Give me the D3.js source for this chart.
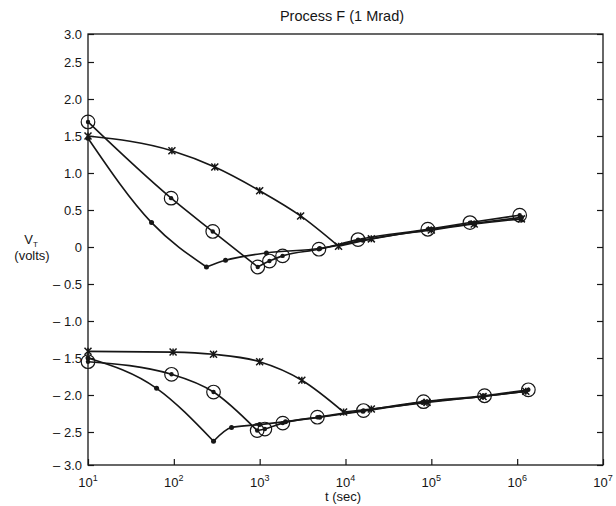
<!DOCTYPE html>
<html>
<head>
<meta charset="utf-8">
<script src="https://cdn.jsdelivr.net/npm/d3@7"></script>
<style>
    body { margin: 0; background: #fff; }
    svg { display: block; font-family: 'Liberation Sans', Arial, sans-serif; }
</style>
</head>
<body>
<svg id="chart-svg" width="616" height="506"></svg>
<script>
// Axis ticks
const xTicks = [1e1, 1e2, 1e3, 1e4, 1e5, 1e6, 1e7];
const yTicks = [-3, -2.5, -2, -1.5, -1, -0.5, 0, 0.5, 1, 1.5, 2, 2.5, 3];

// Upper set of curves (t in sec, V_T in volts). Knee = last point of the falling part.
const upStarT = [10, 95, 300, 1000, 3000, 8300, 20000, 100000, 316000, 1120000];
const upStarV = [1.50, 1.30, 1.08, 0.76, 0.42, 0.01, 0.11, 0.23, 0.31, 0.38];
const upStarKnee = 5;

const upRingT = [10, 93, 284, 950, 1300, 1850, 4900, 14000, 91000, 282000, 1070000];
const upRingV = [1.69, 0.66, 0.21, -0.27, -0.19, -0.12, -0.03, 0.10, 0.24, 0.33, 0.43];
const upRingKnee = 3;

const upDotT = [10, 55, 240, 400, 1200, 5000, 16000, 100000, 316000, 1120000];
const upDotV = [1.47, 0.33, -0.27, -0.18, -0.08, -0.02, 0.09, 0.24, 0.32, 0.40];
const upDotKnee = 2;

// Lower set of curves
const loStarT = [10, 98, 290, 1000, 3100, 9500, 20000, 89000, 400000, 1260000];
const loStarV = [-1.41, -1.42, -1.45, -1.55, -1.80, -2.23, -2.19, -2.10, -2.02, -1.95];
const loStarKnee = 5;

const loRingT = [10, 94, 290, 935, 1150, 1860, 4700, 16200, 81000, 417000, 1350000];
const loRingV = [-1.55, -1.72, -1.96, -2.48, -2.46, -2.38, -2.30, -2.21, -2.09, -2.01, -1.93];
const loRingKnee = 3;

const loDotT = [10, 63, 290, 470, 1000, 2000, 5000, 16000, 79000, 400000, 1260000];
const loDotV = [-1.50, -1.91, -2.64, -2.44, -2.40, -2.36, -2.30, -2.22, -2.10, -2.02, -1.95];
const loDotKnee = 2;

const series = [
    {t: upStarT, v: upStarV, knee: upStarKnee, mark: 'star'},
    {t: upRingT, v: upRingV, knee: upRingKnee, mark: 'ring'},
    {t: upDotT, v: upDotV, knee: upDotKnee, mark: 'dot'},
    {t: loStarT, v: loStarV, knee: loStarKnee, mark: 'star'},
    {t: loRingT, v: loRingV, knee: loRingKnee, mark: 'ring'},
    {t: loDotT, v: loDotV, knee: loDotKnee, mark: 'dot'}
];

const ink = '#161616';
const svg = d3.select('#chart-svg');

// Scales. The original plot squeezes the outermost half-volt steps a little,
// so the voltage scale is piecewise linear to follow the printed ticks.
let xScale = d3.scaleLog()
    .domain([10, 1e7])
    .range([88, 603]);

let yScale = d3.scaleLinear()
    .domain([-3, -2.5, 2.5, 3])
    .range([465, 432, 62, 34]);

let plotLeft = xScale.range()[0], plotRight = xScale.range()[1];
let plotTop = yScale(3), plotBottom = yScale(-3);

// Title
svg.append('text')
    .attr('x', 342)
    .attr('y', 21)
    .attr('text-anchor', 'middle')
    .attr('font-size', '14.5px')
    .attr('fill', ink)
    .text('Process F (1 Mrad)');

// Frame
svg.append('rect')
    .attr('x', plotLeft)
    .attr('y', plotTop)
    .attr('width', plotRight - plotLeft)
    .attr('height', plotBottom - plotTop)
    .attr('fill', 'none')
    .attr('stroke', ink)
    .attr('stroke-width', 1.3);

// Left axis with labels, ticks pointing inward
let yFormat = d => d === 0 ? '0' : (d < 0 ? '\u2013 ' + d3.format('.1f')(-d) : d3.format('.1f')(d));
let gY = svg.append('g')
    .attr('transform', 'translate(' + plotLeft + ',0)')
    .call(d3.axisLeft(yScale).tickValues(yTicks).tickSizeInner(-6).tickSizeOuter(0).tickPadding(6).tickFormat(yFormat));

// Right axis ticks only
let gY2 = svg.append('g')
    .attr('transform', 'translate(' + plotRight + ',0)')
    .call(d3.axisRight(yScale).tickValues(yTicks).tickSizeInner(-6).tickSizeOuter(0).tickFormat(''));

// Bottom axis ticks
let gX = svg.append('g')
    .attr('transform', 'translate(0,' + plotBottom + ')')
    .call(d3.axisBottom(xScale).tickValues(xTicks).tickSizeInner(-6).tickSizeOuter(0).tickFormat(''));

[gY, gY2, gX].forEach(g => {
    g.select('.domain').remove();
    g.selectAll('line').attr('stroke', ink).attr('stroke-width', 1.2);
    g.selectAll('text').attr('fill', ink).attr('font-size', '13px').attr('font-family', null);
});

// Decade labels 10^n
let xLabels = svg.append('g');
xTicks.forEach(t => {
    let lbl = xLabels.append('text')
        .attr('x', xScale(t))
        .attr('y', 487)
        .attr('text-anchor', 'middle')
        .attr('font-size', '13px')
        .attr('fill', ink);
    lbl.append('tspan').text('10');
    lbl.append('tspan')
        .attr('dy', -6)
        .attr('font-size', '9px')
        .text(Math.round(Math.log10(t)));
});

// Axis titles
svg.append('text')
    .attr('x', 343)
    .attr('y', 501)
    .attr('text-anchor', 'middle')
    .attr('font-size', '13px')
    .attr('fill', ink)
    .text('t (sec)');

let vLabel = svg.append('text')
    .attr('x', 31)
    .attr('y', 244)
    .attr('text-anchor', 'middle')
    .attr('font-size', '13px')
    .attr('fill', ink);
vLabel.append('tspan').text('V');
vLabel.append('tspan').attr('dy', 3).attr('font-size', '8px').text('T');

svg.append('text')
    .attr('x', 32)
    .attr('y', 260)
    .attr('text-anchor', 'middle')
    .attr('font-size', '13px')
    .attr('fill', ink)
    .text('(volts)');

// Curves: falling part and rising part drawn separately so the knee stays sharp
let line = d3.line().curve(d3.curveMonotoneX);
let gPaths = svg.append('g').attr('id', 'g-paths');
let gMarks = svg.append('g').attr('id', 'g-marks');

series.forEach(s => {
    let pts = s.t.map((t, i) => [xScale(t), yScale(s.v[i])]);
    [pts.slice(0, s.knee + 1), pts.slice(s.knee)].forEach(seg => {
        gPaths.append('path')
            .attr('d', line(seg))
            .attr('fill', 'none')
            .attr('stroke', ink)
            .attr('stroke-width', 1.6);
    });

    pts.forEach(p => {
        if (s.mark === 'dot') {
            gMarks.append('circle')
                .attr('cx', p[0]).attr('cy', p[1]).attr('r', 2.5)
                .attr('fill', ink);
        } else if (s.mark === 'ring') {
            gMarks.append('circle')
                .attr('cx', p[0]).attr('cy', p[1]).attr('r', 6.8)
                .attr('fill', 'none').attr('stroke', ink).attr('stroke-width', 1.2);
            gMarks.append('circle')
                .attr('cx', p[0]).attr('cy', p[1]).attr('r', 2.2)
                .attr('fill', ink);
        } else {
            let h = 3.5;
            gMarks.append('path')
                .attr('d', 'M' + (p[0] - h) + ',' + (p[1] - h) + 'L' + (p[0] + h) + ',' + (p[1] + h)
                    + 'M' + (p[0] - h) + ',' + (p[1] + h) + 'L' + (p[0] + h) + ',' + (p[1] - h)
                    + 'M' + p[0] + ',' + (p[1] - h) + 'L' + p[0] + ',' + (p[1] + h))
                .attr('stroke', ink)
                .attr('stroke-width', 1.5);
        }
    });
});
</script>
</body>
</html>
